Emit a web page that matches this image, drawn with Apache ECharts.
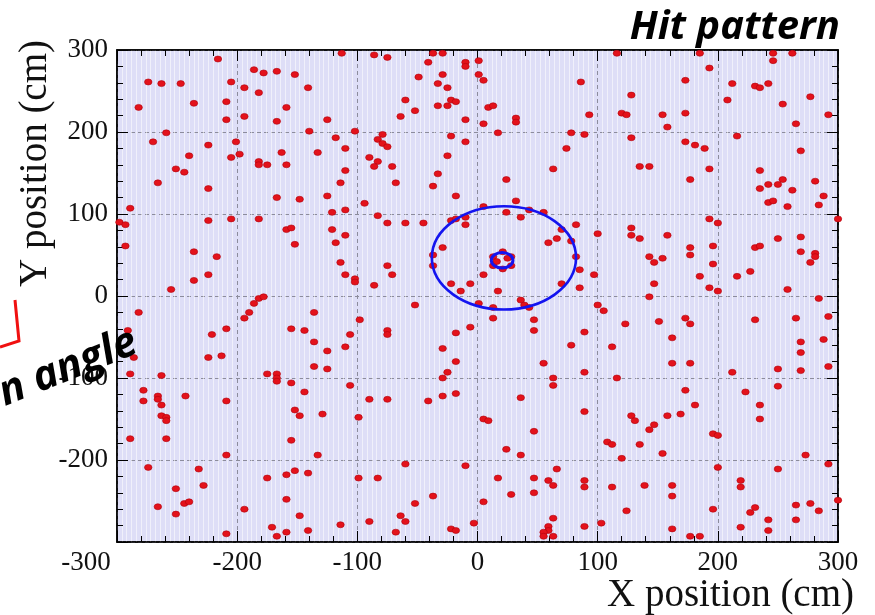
<!DOCTYPE html>
<html>
<head>
<meta charset="utf-8">
<script src="https://cdn.jsdelivr.net/npm/echarts@6/dist/echarts.min.js"></script>
<style>html,body{margin:0;padding:0;background:#fff;}#c{width:875px;height:615px;}</style>
</head>
<body>
<div id="c"></div>
<script>
// ---- data (cm) ----
const axisTicks = [-300, -200, -100, 0, 100, 200, 300];

const hitsTop = [
[-113,296],[-216,289],[-186,276],[-178,272],[-167,274],[-152,270],[-274,261],[-263,259],[-247,259],[-205,261],[-194,254],[-141,254],[-182,248],[-209,237],[-236,235],[-282,230],[-159,230],[-194,219],[-209,215],[-167,213],[-125,215],[-259,199],[-140,201],[-102,201],[-270,188],[-201,188],[-118,193],[-224,184],[-110,180],[-240,171],[-205,169],[-198,173],[-163,175],[-133,175],[-182,164],[-182,160],[-175,160],[-159,160],[-251,155],[-244,151],[-110,153],[-266,138],[-114,138],[-224,131],[-167,120],[-148,118],[-125,122],[-289,107],[-121,102],[-110,105],
[-86,294],[-75,291],[-37,296],[-29,296],[-41,285],[-10,285],[-10,280],[1,287],[-49,267],[-29,270],[1,270],[5,263],[-33,259],[-25,254],[86,261],[-60,239],[-22,239],[-18,237],[-33,232],[-25,232],[9,230],[13,232],[-52,226],[-64,219],[-10,215],[32,217],[32,212],[93,221],[5,210],[17,199],[78,199],[89,197],[-79,197],[-83,191],[-79,186],[-75,182],[-22,195],[-10,188],[74,180],[-90,169],[-83,164],[-86,158],[-25,171],[-71,158],[63,155],[-33,149],[-68,138],[24,142],[-37,134],[-18,122],[-94,113],[32,116],[5,109],[24,102],[43,105],[55,102],
[116,296],[185,296],[246,296],[262,296],[246,287],[193,278],[173,263],[212,259],[231,256],[235,254],[242,259],[128,245],[208,239],[254,234],[277,243],[120,223],[124,221],[154,221],[173,223],[292,221],[158,206],[265,210],[128,193],[216,195],[173,188],[181,184],[189,180],[269,177],[135,158],[143,158],[193,155],[235,153],[177,142],[254,142],[281,140],[242,136],[250,136],[235,131],[262,129],[288,122],[242,114],[246,116],[284,111],[258,109]
];

const hitsMiddle = [
[-298,90],[-293,87],[-224,92],[-205,94],[-182,94],[-159,81],[-155,83],[-121,81],[-110,74],[-293,61],[-152,63],[-118,65],[-236,54],[-217,48],[-114,41],[-224,26],[-110,26],[-236,19],[-102,21],[-102,17],[-255,8],[-182,-3],[-178,-1],[-186,-9],[-190,-20],[-194,-27],[-282,-20],[-136,-20],[-98,-29],[-291,-42],[-209,-40],[-221,-47],[-155,-40],[-144,-42],[-106,-47],[-136,-56],[-110,-62],[-125,-67],[-286,-75],[-224,-75],[-213,-73],[-136,-86],[-125,-89],[-289,-95],[-263,-97],[-175,-95],[-167,-95],[-167,-100],[-167,-104],
[-83,98],[36,96],[-75,89],[-60,89],[-45,89],[-22,92],[-18,94],[-10,96],[-10,87],[82,87],[70,81],[100,76],[59,65],[66,70],[78,67],[-29,59],[-37,50],[-37,37],[-75,37],[-71,26],[82,48],[85,32],[97,26],[5,26],[-86,13],[-22,15],[-6,15],[-14,6],[17,6],[70,15],[85,10],[-52,-11],[1,-9],[13,-14],[36,-5],[39,-11],[43,-14],[100,-11],[13,-27],[47,-29],[-6,-38],[-75,-42],[-75,-47],[-18,-45],[47,-42],[89,-44],[-29,-64],[78,-60],[-18,-80],[55,-82],[89,-93],[-25,-93],[-29,-100],[63,-100],
[193,94],[200,89],[300,94],[128,83],[128,74],[135,70],[158,74],[250,70],[269,72],[177,59],[196,61],[231,59],[235,61],[143,48],[147,41],[154,46],[177,50],[196,39],[269,54],[281,52],[281,48],[277,41],[227,30],[185,24],[216,24],[147,15],[193,10],[200,6],[258,8],[143,-1],[284,-3],[105,-18],[123,-34],[151,-31],[173,-27],[177,-34],[231,-29],[265,-27],[292,-25],[162,-51],[112,-62],[269,-56],[288,-53],[269,-69],[162,-82],[177,-82],[250,-89],[269,-91],[292,-86],[212,-93],[116,-100]
];

const hitsBottom = [
[-155,-106],[-106,-109],[-278,-115],[-144,-117],[-278,-128],[-266,-122],[-266,-126],[-243,-122],[-209,-128],[-263,-133],[-152,-139],[-263,-146],[-259,-148],[-259,-152],[-148,-146],[-129,-144],[-99,-148],[-289,-174],[-259,-174],[-155,-176],[-209,-194],[-133,-194],[-274,-209],[-232,-211],[-228,-231],[-251,-235],[-175,-222],[-159,-218],[-152,-213],[-141,-216],[-99,-222],[-244,-253],[-240,-251],[-266,-257],[-251,-266],[-159,-248],[-194,-260],[-148,-268],[-171,-282],[-114,-279],[-141,-286],[-159,-288],[-209,-290],[-167,-293],
[63,-109],[-90,-126],[-75,-126],[-41,-128],[-29,-122],[-18,-119],[36,-124],[89,-141],[5,-150],[9,-152],[47,-165],[24,-187],[36,-194],[-60,-205],[-10,-207],[66,-211],[-83,-222],[17,-222],[47,-222],[59,-225],[63,-231],[89,-225],[89,-233],[28,-242],[47,-240],[-37,-244],[-52,-253],[5,-251],[-64,-268],[-60,-275],[-90,-275],[-3,-277],[63,-271],[89,-281],[103,-277],[-68,-288],[-22,-284],[-18,-286],[59,-281],[59,-286],[55,-288],[55,-293],[63,-293],
[173,-115],[223,-117],[250,-110],[181,-133],[235,-133],[128,-146],[131,-152],[158,-146],[169,-144],[235,-150],[143,-163],[147,-157],[196,-168],[200,-170],[108,-178],[112,-181],[135,-181],[154,-192],[120,-198],[273,-194],[292,-205],[200,-209],[250,-211],[219,-225],[219,-233],[112,-233],[139,-231],[162,-231],[162,-244],[196,-260],[124,-262],[227,-264],[231,-258],[242,-273],[265,-255],[265,-273],[277,-253],[284,-262],[300,-249],[219,-282],[242,-286],[162,-284],[177,-293],[185,-293]
];

// hits forming the small central ring
const hitsCore = [[13,48],[13,37],[21,54],[21,33],[28,48],[28,37],[25,46],[16,42]];

// fitted rings: centre x, centre y, radius x, radius y
const ringCX = [22, 20.5];
const ringCY = [46.5, 43.5];
const ringRX = [60, 9];
const ringRY = [63, 9.5];

// ---- chart ----
const chart = echarts.init(document.getElementById('c'), null, {renderer: 'canvas'});
const serif = '"Liberation Serif", "DejaVu Serif", serif';
const ringWidths = [2.6, 3];

function mainAxis(pos, showLabels, isX) {
  return {
    type: 'value', min: -300, max: 300, interval: 100, position: pos,
    axisLine: {show: true, onZero: false, lineStyle: {color: '#000', width: 1.5}},
    axisTick: {show: true, inside: true, length: 11, lineStyle: {color: '#000', width: 1}},
    minorTick: {show: true, splitNumber: 5, length: 6, lineStyle: {color: '#000', width: 1}},
    axisLabel: showLabels ? (isX ? {
      show: true, color: '#111', fontFamily: serif, fontSize: 27, margin: 7,
      formatter: v => v === -300 ? '{s|-300}' : String(v),
      rich: {s: {fontFamily: serif, fontSize: 27, color: '#111', padding: [0, 62, 0, 0]}}
    } : {
      show: true, color: '#111', fontFamily: serif, fontSize: 27, margin: 9,
      formatter: v => v === -300 ? '' : String(v)
    }) : {show: false},
    splitLine: showLabels ? {show: true, lineStyle: {color: '#8c8c9c', type: [4, 3], width: 1}} : {show: false}
  };
}

const textureAxis = {
  type: 'value', min: -300, max: 300, interval: 100, position: 'bottom',
  axisLine: {show: false}, axisTick: {show: false}, axisLabel: {show: false},
  splitLine: {show: false},
  minorTick: {show: false, splitNumber: 25},
  minorSplitLine: {show: true, lineStyle: {color: 'rgba(255,255,255,0.55)', width: 1}}
};

const option = {
  backgroundColor: '#ffffff',
  animation: false,
  grid: {left: 117, right: 37, top: 50, bottom: 73, show: true,
         backgroundColor: '#dedef7', borderColor: '#000', borderWidth: 1.5},
  xAxis: [mainAxis('bottom', true, true), mainAxis('top', false, true), textureAxis],
  yAxis: [mainAxis('left', true, false), mainAxis('right', false, false)],
  series: [
    {
      type: 'scatter', xAxisIndex: 0, yAxisIndex: 0,
      data: hitsTop.concat(hitsMiddle, hitsBottom, hitsCore),
      symbol: 'circle', symbolSize: [7.5, 6],
      itemStyle: {color: '#e3121b', borderColor: '#b0000c', borderWidth: 0.6, opacity: 1},
      z: 3
    },
    {
      type: 'custom', xAxisIndex: 0, yAxisIndex: 0,
      data: ringCX.map((x, i) => [x, ringCY[i], ringRX[i], ringRY[i]]),
      encode: {x: 0, y: 1},
      renderItem: function (params, api) {
        const c = api.coord([api.value(0), api.value(1)]);
        const s = api.size([api.value(2), api.value(3)]);
        return {
          type: 'ellipse',
          shape: {cx: c[0], cy: c[1], rx: s[0], ry: s[1]},
          style: {fill: 'none', stroke: '#1414f0', lineWidth: ringWidths[params.dataIndex]}
        };
      },
      z: 4
    }
  ],
  graphic: [
    {type: 'text', x: 840, y: 28, z: 10,
     style: {text: 'Hit pattern', font: 'italic bold 40px "Open Sans", "Noto Sans", sans-serif',
             fill: '#000', align: 'right', verticalAlign: 'middle'}},
    {type: 'text', x: 854, y: 596, z: 10,
     style: {text: 'X position (cm)', font: '39px ' + serif, fill: '#111',
             align: 'right', verticalAlign: 'middle'}},
    {type: 'text', x: 36, y: 40, rotation: Math.PI / 2, z: 10,
     style: {text: 'Y position (cm)', font: '39px ' + serif, fill: '#111',
             align: 'right', verticalAlign: 'middle'}},
    {type: 'text', x: 68, y: 368, rotation: 0.38, z: 10,
     style: {text: 'n angle', font: 'italic bold 42px "Open Sans", "Noto Sans", sans-serif',
             fill: '#000', align: 'center', verticalAlign: 'middle'}},
    {type: 'polyline', z: 10,
     shape: {points: [[0, 347], [19, 341], [15, 300]]},
     style: {stroke: '#f01010', lineWidth: 3, fill: 'none'}}
  ]
};
chart.setOption(option);
</script>
</body>
</html>
